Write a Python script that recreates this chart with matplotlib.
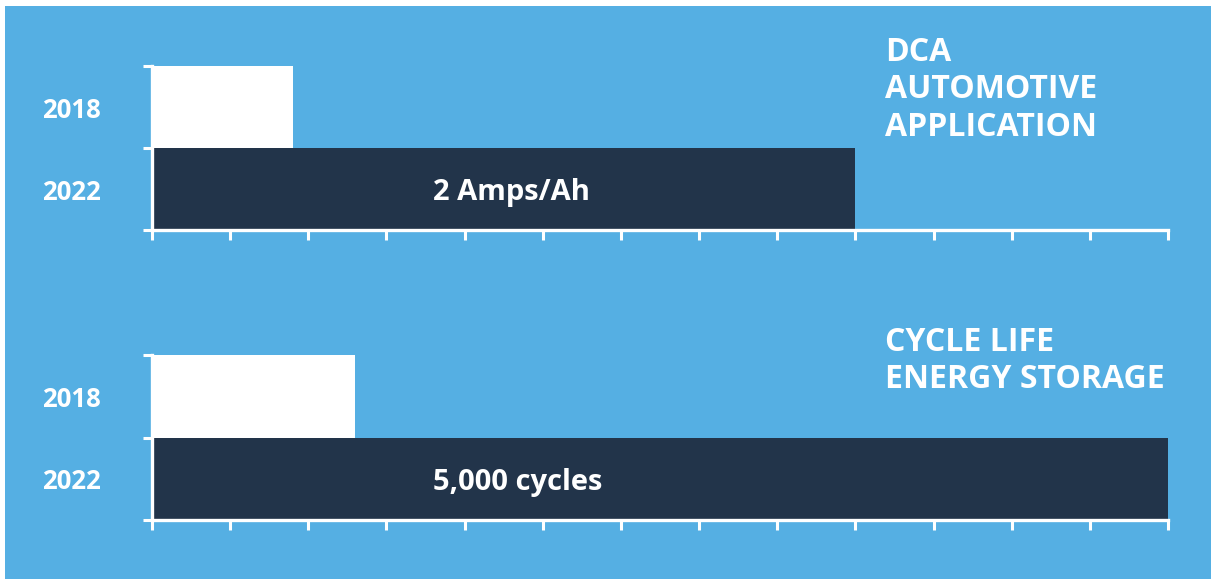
import numpy as np
import matplotlib
matplotlib.use('Agg')
import matplotlib.pyplot as plt
from matplotlib.patches import Rectangle

# data
years = ['2018', '2022']
dca_values = [0.4, 2.0]          # Amps/Ah
cycle_values = [1000, 5000]      # cycles
dca_label = '2 Amps/Ah'
cycle_label = '5,000 cycles'
dca_title = 'DCA\nAUTOMOTIVE\nAPPLICATION'
cycle_title = 'CYCLE LIFE\nENERGY STORAGE'
n_ticks = 13
dca_xmax = 2.0 * 13 / 9          # axis ends 13 ticks out, 2 A/Ah sits on tick 9
cycle_xmax = 5000

BG = '#55afe3'
NAVY = '#22344a'
WHITE = 'white'

plt.rcParams['font.family'] = ['Open Sans', 'DejaVu Sans']

W, H = 1211, 579
fig = plt.figure(figsize=(W / 100, H / 100), dpi=100, facecolor='white')
fig.patches.append(Rectangle((5 / W, 0), 1 - 5 / W, 1 - 6 / H, transform=fig.transFigure,
                             facecolor=BG, edgecolor='none', zorder=-10))


def panel(top_px, bottom_px, values, xmax, bar_text, title, title_top_px):
    ax = fig.add_axes([152 / W, 1 - bottom_px / H, 1016 / W, (bottom_px - top_px) / H])
    ax.set_facecolor('none')
    ypos = [1, 0]  # 2018 on top, 2022 below
    colors = [WHITE, NAVY]
    ax.barh(ypos, values, height=1, align='edge', color=colors, edgecolor='none')
    ax.set_xlim(0, xmax)
    ax.set_ylim(0, 2)
    ax.set_xticks(np.linspace(0, xmax, n_ticks + 1))
    ax.set_xticklabels([])
    ax.set_yticks([0, 1, 2])
    ax.set_yticklabels([])
    ax.set_yticks([1.5, 0.5], minor=True)
    ax.set_yticklabels(years, minor=True, fontsize=18.5, fontweight='bold', color=WHITE)
    ax.tick_params(axis='y', which='minor', length=0, pad=37)
    ax.tick_params(axis='x', which='major', color=WHITE, width=2.2, length=7.5, direction='out')
    ax.tick_params(axis='y', which='major', color=WHITE, width=2.2, length=6.5, direction='out')
    for s in ['top', 'right']:
        ax.spines[s].set_visible(False)
    for s in ['left', 'bottom']:
        ax.spines[s].set_color(WHITE)
        ax.spines[s].set_linewidth(2.4)
    ax.text(0.2766, 0.46, bar_text, transform=ax.get_yaxis_transform(),
            ha='left', va='center', fontsize=21, fontweight='bold', color=WHITE)
    fig.text(885 / W, 1 - title_top_px / H, title, ha='left', va='top',
             fontsize=23, fontweight='bold', color=WHITE, linespacing=1.18)
    return ax


panel(66, 230, dca_values, dca_xmax, dca_label, dca_title, 36)
panel(355, 520, cycle_values, cycle_xmax, cycle_label, cycle_title, 326)

fig.savefig('out.png', dpi=100, facecolor=fig.get_facecolor())
